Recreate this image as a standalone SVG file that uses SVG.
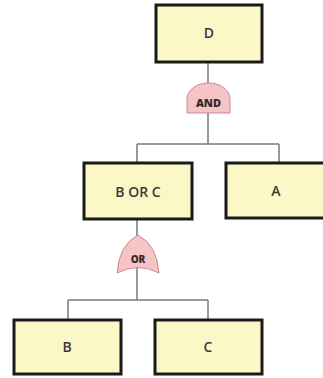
<svg xmlns="http://www.w3.org/2000/svg" width="323" height="378" viewBox="0 0 323 378">
<style>
.box{fill:#fbf7c6;stroke:#1a1a1a;stroke-width:3}
.lbl{font-family:"Open Sans","Liberation Sans",sans-serif;font-size:14px;font-weight:600;fill:#3a3a3a;text-anchor:middle}
.gate{fill:#f6c3c6;stroke:#c98a90;stroke-width:1}
.glbl{font-family:"Open Sans","Liberation Sans",sans-serif;font-size:11px;font-weight:800;fill:#3a2a2a;text-anchor:middle}
.con{fill:none;stroke:#7a7a7a;stroke-width:1.5}
</style>
<rect width="323" height="378" fill="#ffffff"/>
<g id="connectors">
<path class="con" d="M208,62 V84 M208,113 V144 M137,144 H279 M137,144 V163 M279,144 V163"/>
<path class="con" d="M137,219 V236 M137,266 V300 M68,300 H208 M68,300 V320 M208,300 V320"/>
</g>
<g id="node-D"><rect class="box" x="156" y="5" width="106" height="57"/><text class="lbl" x="209" y="38">D</text></g>
<g id="gate-AND"><path class="gate" d="M187,113 L187,99 A21.5,16 0 0 1 230,99 L230,113 Z"/><text class="glbl" x="208.5" y="107">AND</text></g>
<g id="node-BORC"><rect class="box" x="84" y="163" width="108" height="56"/><text class="lbl" x="138" y="197">B OR C</text></g>
<g id="node-A"><rect class="box" x="226" y="163" width="100" height="55"/><text class="lbl" x="276" y="196">A</text></g>
<g id="gate-OR"><path class="gate" d="M117,273 Q119,245 138,235 Q157,245 159,273 Q138,262 117,273 Z"/><text class="glbl" x="138" y="263" style="font-size:10px">OR</text></g>
<g id="node-B"><rect class="box" x="14" y="320" width="107" height="54"/><text class="lbl" x="67" y="352">B</text></g>
<g id="node-C"><rect class="box" x="155" y="320" width="107" height="54"/><text class="lbl" x="208" y="352">C</text></g>
</svg>
